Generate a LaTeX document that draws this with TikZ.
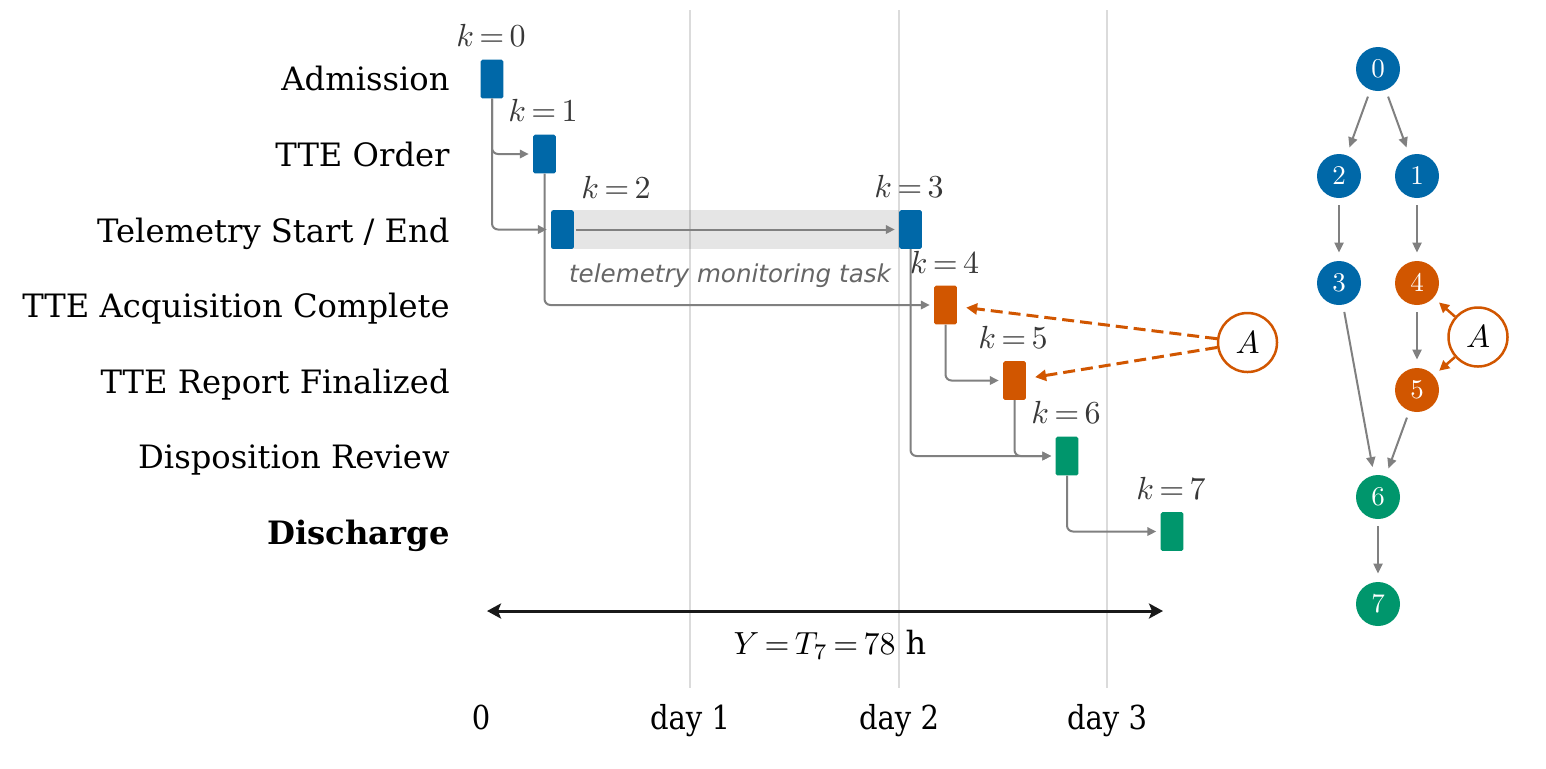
\RequirePackage{fix-cm}
\documentclass[tikz,border=0pt]{standalone}
\usepackage{graphicx}
\usepackage{fontspec}
\setmainfont{DejaVu Serif}
\setsansfont{DejaVu Sans}
\newfontfamily\condserif{DejaVu Serif}[FakeStretch=0.88]
\usetikzlibrary{arrows.meta,backgrounds}
\definecolor{cblue}{RGB}{0,104,168}
\definecolor{corange}{RGB}{209,86,0}
\definecolor{cgreen}{RGB}{0,150,108}
\definecolor{cgray}{RGB}{128,128,128}
\definecolor{klab}{RGB}{56,56,56}
\definecolor{tasklab}{RGB}{102,102,102}
\newcommand{\kmath}[1]{\scalebox{1.6}{$#1$}}
\newcommand{\dmath}[1]{\scalebox{1.35}{$#1$}}
\begin{document}
\begin{tikzpicture}[x=0.5pt,y=-0.5pt,
  bar/.style={rectangle,minimum width=11.3pt,minimum height=19.3pt,inner sep=0pt,rounded corners=0.8pt},
  conn/.style={draw=cgray,line width=1pt,rounded corners=3pt,-{Triangle[length=4.5pt,width=4.2pt]},shorten >=2pt},
  klabel/.style={text=klab,inner sep=0pt},
  rowlabel/.style={anchor=base east,font=\fontsize{16.1}{19}\selectfont,inner sep=0pt},
  gridline/.style={draw=black!14,line width=1pt},
  ticklabel/.style={anchor=base,font=\condserif\fontsize{16.5}{19}\selectfont,inner sep=0pt},
  anode/.style={circle,draw=corange,line width=1.25pt,fill=white,minimum size=29.5pt,inner sep=0pt},
  dashconn/.style={draw=corange,line width=1.5pt,dash pattern=on 6pt off 3pt,-{Triangle[length=5.5pt,width=5.5pt]},shorten >=4.5pt},
  dnode/.style={circle,minimum size=22pt,inner sep=0pt,text=white},
  dconn/.style={draw=cgray,line width=1pt,-{Triangle[length=5pt,width=4.5pt]},shorten >=4pt,shorten <=3.5pt},
  aconn/.style={draw=corange,line width=1.25pt,-{Triangle[length=5pt,width=5pt]},shorten >=3.5pt},
  span/.style={draw=black!90,line width=1.5pt,{Stealth[length=7pt,width=7.5pt,inset=1.5pt]}-{Stealth[length=7pt,width=7.5pt,inset=1.5pt]}}
]
\useasboundingbox (0,0) rectangle (1546,768);

% grid lines
\begin{pgfonlayer}{background}
\draw[gridline] (690,10) -- (690,688);
\draw[gridline] (899,10) -- (899,688);
\draw[gridline] (1107,10) -- (1107,688);
\end{pgfonlayer}

% row labels
\node[rowlabel] (r0) at (450,90) {Admission};
\node[rowlabel] (r1) at (450,166) {TTE Order};
\node[rowlabel] (r2) at (450,242) {Telemetry Start / End};
\node[rowlabel] (r3) at (450,317) {TTE Acquisition Complete};
\node[rowlabel] (r4) at (450,393) {TTE Report Finalized};
\node[rowlabel] (r5) at (450,468) {Disposition Review};
\node[rowlabel] (r6) at (450,544) {\textbf{Discharge}};

% bars
\node[bar,fill=cblue] (b0) at (492,79) {};
\node[bar,fill=cblue] (b1) at (544.5,154) {};
\node[bar,fill=cblue] (b2) at (562.5,229.5) {};
\node[bar,fill=cblue] (b3) at (910.5,229.5) {};
\node[bar,fill=corange] (b4) at (945.5,305) {};
\node[bar,fill=corange] (b5) at (1014.5,380.5) {};
\node[bar,fill=cgreen] (b6) at (1067,456) {};
\node[bar,fill=cgreen] (b7) at (1172,531.5) {};

% telemetry band
\begin{pgfonlayer}{background}
\fill[black,opacity=0.1] (b2.north west) rectangle (b3.south west);
\end{pgfonlayer}
\node[text=tasklab,font=\sffamily\itshape\fontsize{12.3}{15}\selectfont,inner sep=0pt] (task) at (730,276) {telemetry monitoring task};

% k labels
\node[klabel] (k0) at (491,35) {\kmath{k\,{=}\,0}};
\node[klabel] (k1) at (543,110) {\kmath{k\,{=}\,1}};
\node[klabel] (k2) at (616,187) {\kmath{k\,{=}\,2}};
\node[klabel] (k3) at (909,186) {\kmath{k\,{=}\,3}};
\node[klabel] (k4) at (944.5,262) {\kmath{k\,{=}\,4}};
\node[klabel] (k5) at (1013,337) {\kmath{k\,{=}\,5}};
\node[klabel] (k6) at (1066,412) {\kmath{k\,{=}\,6}};
\node[klabel] (k7) at (1171,488) {\kmath{k\,{=}\,7}};

% connectors
\draw[conn] (b0.south) |- (b1.west);
\draw[conn] (b0.south) |- (b2.west);
\draw[conn] (b1.south) |- (b4.west);
\draw[conn,shorten <=1pt] (b2.east) -- (b3.west);
\draw[conn] (b3.south) |- (b6.west);
\draw[conn] (b4.south) |- (b5.west);
\draw[conn] (b5.south) |- (b6.west);
\draw[conn] (b6.south) |- (b7.west);

% A annotation
\node[anode] (A) at (1247.5,342.5) {\kmath{A}};
\draw[dashconn] (A) -- (b4);
\draw[dashconn] (A) -- (b5);

% span arrow
\coordinate (yl) at (487,611);
\coordinate (yr) at (1163,611);
\draw[span] (yl) -- (yr);
\node[inner sep=0pt] (ylab) at (830,645) {\kmath{Y\,{=}\,T_7\,{=}\,78\ \mathrm{h}}};

% tick labels
\node[ticklabel] (t0) at (481,729) {0};
\node[ticklabel] (t1) at (690,729) {day 1};
\node[ticklabel] (t2) at (899,729) {day 2};
\node[ticklabel] (t3) at (1107,729) {day 3};

% DAG
\node[dnode,fill=cblue] (d0) at (1378,69) {\dmath{0}};
\node[dnode,fill=cblue] (d2) at (1339,176) {\dmath{2}};
\node[dnode,fill=cblue] (d1) at (1417,176) {\dmath{1}};
\node[dnode,fill=cblue] (d3) at (1339,283) {\dmath{3}};
\node[dnode,fill=corange] (d4) at (1417,283) {\dmath{4}};
\node[dnode,fill=corange] (d5) at (1417,390) {\dmath{5}};
\node[dnode,fill=cgreen] (d6) at (1378,497) {\dmath{6}};
\node[dnode,fill=cgreen] (d7) at (1378,604) {\dmath{7}};
\node[anode] (dA) at (1478,337) {\kmath{A}};

\draw[dconn] (d0) -- (d2);
\draw[dconn] (d0) -- (d1);
\draw[dconn] (d2) -- (d3);
\draw[dconn] (d1) -- (d4);
\draw[dconn] (d3) -- (d6);
\draw[dconn] (d4) -- (d5);
\draw[dconn] (d5) -- (d6);
\draw[dconn] (d6) -- (d7);
\draw[aconn] (dA) -- (d4);
\draw[aconn] (dA) -- (d5);
\end{tikzpicture}
\end{document}
